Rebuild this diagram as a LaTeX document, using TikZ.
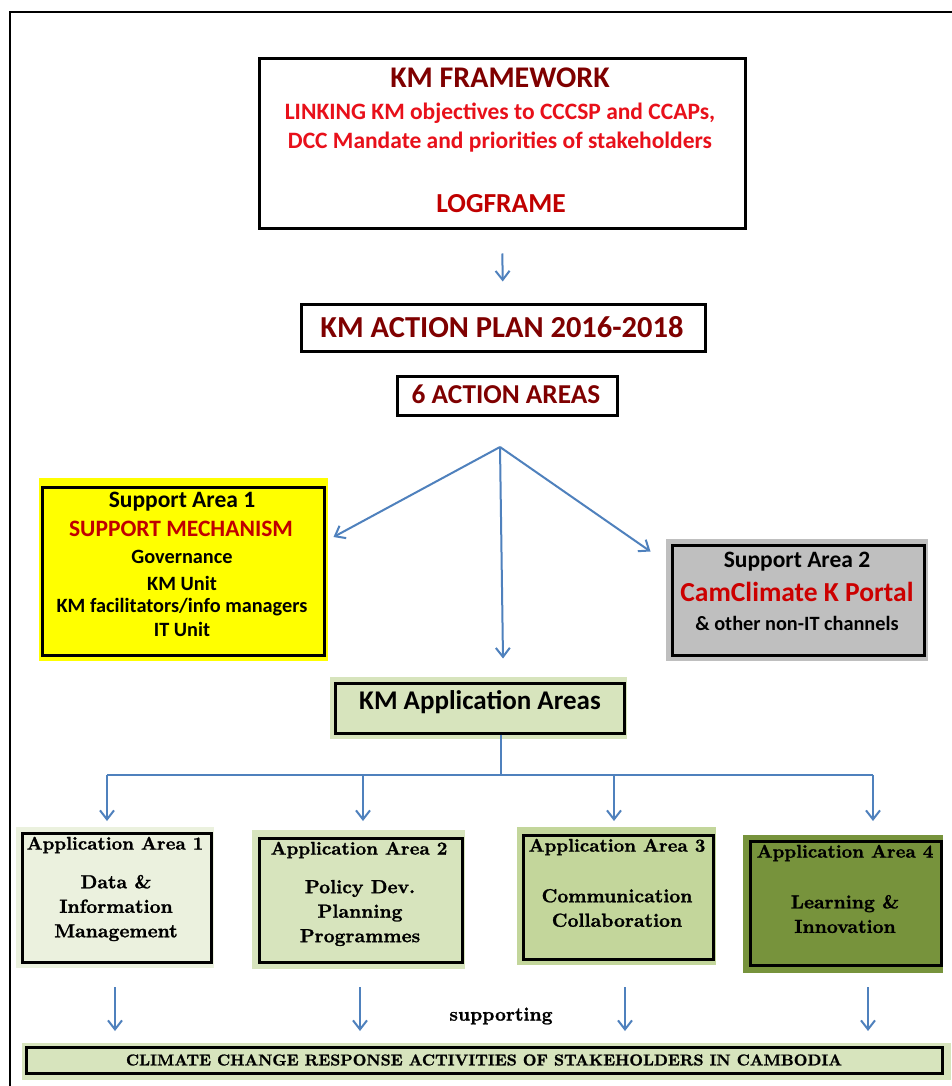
\documentclass[tikz,border=0pt]{standalone}
\usepackage{fontspec}
\newfontfamily\calb{Carlito}
\newfontfamily\serb{lmroman10-bold.otf}[FakeBold=1.2]
\usetikzlibrary{arrows.meta,calc}
\definecolor{dred}{HTML}{7F0000}
\definecolor{bred}{HTML}{E8101A}
\definecolor{mred}{HTML}{C00000}
\definecolor{ablue}{HTML}{4F81BD}
\definecolor{yel}{HTML}{FFFF00}
\definecolor{gry}{HTML}{BFBFBF}
\definecolor{gA}{HTML}{EBF1DE}
\definecolor{gB}{HTML}{D7E4BD}
\definecolor{gC}{HTML}{C3D69B}
\definecolor{gD}{HTML}{77933C}
\tikzset{
  box/.style={draw=black, line width=3, inner sep=0, rectangle},
  cal/.style={font=\calb\bfseries\fontsize{#1}{#1}\selectfont, inner sep=0, align=center},
  ser/.style={font=\serb\fontsize{#1}{24.5}\selectfont, inner sep=0, align=center},
  arr/.style={draw=ablue, line width=2, -{Straight Barb[length=9,width=14,line width=2]}},
  lin/.style={draw=ablue, line width=2},
}
\begin{document}
\begin{tikzpicture}[x=1pt,y=-1pt]
\useasboundingbox (0,0) rectangle (951,1086);
\fill[white] (0,0) rectangle (951,1086);
\draw[line width=2] (10,12) rectangle (965,1100);

% top boxes
\node[box, minimum width=486, minimum height=169] (fw) at (502,143.5) {};
\node[cal=30, text=dred] (fwt) at (500,78) {KM FRAMEWORK};
\node[cal=23.5, text=bred] (fwl1) at (500,113) {LINKING KM objectives to CCCSP and CCAPs,};
\node[cal=23.5, text=bred] (fwl2) at (500,142) {DCC Mandate and priorities of stakeholders};
\node[cal=27.5, text=mred] (fwlog) at (501,204) {LOGFRAME};

\node[box, minimum width=404, minimum height=47] (ap) at (503,327.5) {};
\node[cal=30.5, text=dred] (apt) at (502,327) {KM ACTION PLAN 2016-2018};

\node[box, minimum width=220, minimum height=39] (aa) at (507,395.5) {};
\node[cal=27.3, text=dred] (aat) at (506,394) {6 ACTION AREAS};

% support area 1
\fill[yel] (39,478) rectangle (328,661);
\node[box, fill=yel, minimum width=282, minimum height=168] (s1) at (183,571) {};
\node[cal=23.5] (s1a) at (182,502) {Support Area 1};
\node[cal=23.5, text=mred] (s1b) at (181,529) {SUPPORT MECHANISM};
\node[cal=20.3] (s1c) at (182,557) {Governance};
\node[cal=20.3] (s1d) at (182,583) {KM Unit};
\node[cal=20.3] (s1e) at (182,607) {KM facilitators/info managers};
\node[cal=20.3] (s1f) at (182,629) {IT Unit};

% support area 2
\fill[gry] (666,539) rectangle (928,661);
\node[box, fill=gry, minimum width=252, minimum height=110] (s2) at (798,600) {};
\node[cal=23.5] (s2a) at (797,562) {Support Area 2};
\node[cal=27.5, text=red!80!black] (s2b) at (797,592) {CamClimate K Portal};
\node[cal=20.3] (s2c) at (797,623) {\& other non-IT channels};

% KM application areas
\fill[gB] (330,677) rectangle (627,739);
\node[box, fill=gB, minimum width=289, minimum height=50] (km) at (479.5,708) {};
\node[cal=27] (kmt) at (480,702) {KM Application Areas};

% application areas
\fill[gA] (16,827) rectangle (214,968);
\node[box, fill=gA, minimum width=189, minimum height=129] (a1) at (116.5,897.5) {};
\node[ser=18.4] (a1t) at (115,845) {Application Area 1};
\node[ser=19] (a1b) at (116,908) {Data \&\\Information\\Management};

\fill[gB] (252,830) rectangle (465,969);
\node[box, fill=gB, minimum width=203, minimum height=124] (a2) at (360.5,900) {};
\node[ser=18.4] (a2t) at (359,850) {Application Area 2};
\node[ser=19] (a2b) at (360,913) {Policy Dev.\\Planning\\Programmes};

\fill[gC] (517,827) rectangle (716,965);
\node[box, fill=gC, minimum width=190, minimum height=124] (a3) at (618,897) {};
\node[ser=18.4] (a3t) at (617,847) {Application Area 3};
\node[ser=19] (a3b) at (617,908) {Communication\\Collaboration};

\fill[gD] (743,835) rectangle (943,973);
\node[box, fill=gD, minimum width=191, minimum height=124] (a4) at (845.5,903) {};
\node[ser=18.4] (a4t) at (845,853) {Application Area 4};
\node[ser=19] (a4b) at (845,914) {Learning \&\\Innovation};

\node[ser=19] (sup) at (501,1016) {supporting};

% bottom bar
\fill[gB] (22,1043) rectangle (951,1080);
\node[box, fill=gB, minimum width=916, minimum height=26] (cc) at (484,1060.5) {};
\node[ser=15.8] (cct) at (484,1060) {CLIMATE CHANGE RESPONSE ACTIVITIES OF STAKEHOLDERS IN CAMBODIA};

% connectors
\draw[arr, shorten <=24, shorten >=21] (fw.south) -- (ap.north);
\coordinate (fan) at (500,447);
\draw[arr] (fan) -- ([shift={(8,-34)}]s1.east);
\draw[arr] (fan) -- ([shift={(-20,8)}]s2.north west);
\draw[arr] (fan) -- ([shift={(23.5,-23)}]km.north);
\coordinate (bus) at (501,775);
\coordinate (b1) at (107,775);
\coordinate (b2) at (363,775);
\coordinate (b3) at (614,775);
\coordinate (b4) at (873,775);
\coordinate (t1) at (107,821);
\coordinate (t2) at (363,821);
\coordinate (t3) at (614,821);
\coordinate (t4) at (873,821);
\draw[lin] (km.south -| bus) -- (bus);
\draw[lin] (b1) -- (b4);
\draw[arr] (b1) -- (t1);
\draw[arr] (b2) -- (t2);
\draw[arr] (b3) -- (t3);
\draw[arr] (b4) -- (t4);
\coordinate (u1) at (115,987);
\coordinate (u2) at (360,987);
\coordinate (u3) at (625,987);
\coordinate (u4) at (868,987);
\coordinate (v1) at (115,1031);
\coordinate (v2) at (360,1031);
\coordinate (v3) at (625,1031);
\coordinate (v4) at (868,1031);
\draw[arr] (u1) -- (v1);
\draw[arr] (u2) -- (v2);
\draw[arr] (u3) -- (v3);
\draw[arr] (u4) -- (v4);
\end{tikzpicture}
\end{document}
